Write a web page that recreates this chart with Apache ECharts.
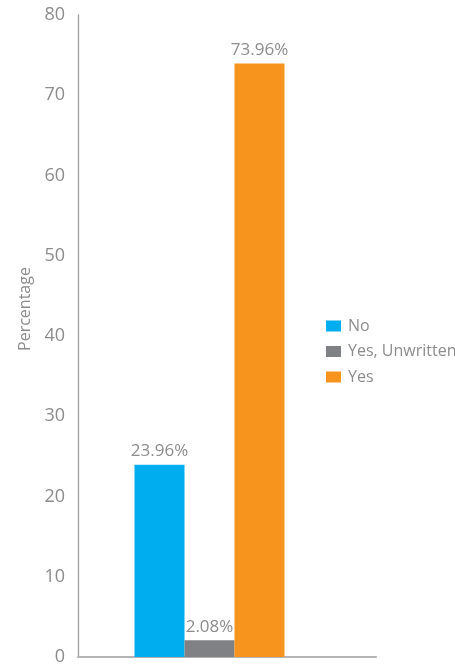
<!DOCTYPE html>
<html>
<head>
<meta charset="utf-8">
<style>
  html, body { margin: 0; padding: 0; background: #ffffff; }
  #chart { width: 455px; height: 666px; }
</style>
<script src="https://cdn.jsdelivr.net/npm/echarts@6/dist/echarts.min.js"></script>
</head>
<body>
<div id="chart"></div>
<script>
// Survey answers, share of respondents (%)
const categories = ['Response'];
const seriesNames = ['No', 'Yes, Unwritten', 'Yes'];
const noValues = [23.96];
const unwrittenValues = [2.08];
const yesValues = [73.96];
const yTicks = [0, 10, 20, 30, 40, 50, 60, 70, 80];

const colors = ['#00AEEF', '#808184', '#F7941E'];
const textGray = '#8C8C8E';
const font = '"Open Sans", "Noto Sans", sans-serif';

function barSeries(name, values, color) {
  return {
    name: name,
    type: 'bar',
    data: values,
    barWidth: 50,
    barGap: '0%',
    itemStyle: { color: color },
    label: {
      show: true,
      position: 'top',
      distance: 5,
      formatter: function (p) { return p.value.toFixed(2) + '%'; },
      color: textGray,
      fontFamily: font,
      fontSize: 17
    }
  };
}

const chart = echarts.init(document.getElementById('chart'), null, { renderer: 'canvas' });
chart.setOption({
  animation: false,
  textStyle: { fontFamily: font },
  grid: { left: 78, right: 79, top: 15, bottom: 8, containLabel: false },
  legend: {
    data: seriesNames,
    orient: 'vertical',
    left: 321,
    top: 313,
    itemWidth: 15,
    itemHeight: 11,
    itemGap: 9.5,
    icon: 'rect',
    textStyle: { color: textGray, fontSize: 16, fontFamily: font, padding: [0, 0, 0, 2] }
  },
  xAxis: {
    type: 'category',
    data: categories,
    axisLine: { show: true, lineStyle: { color: '#B4B4B4', width: 2 } },
    axisTick: { show: false },
    axisLabel: { show: false },
    splitLine: { show: false }
  },
  yAxis: {
    type: 'value',
    min: yTicks[0],
    max: yTicks[yTicks.length - 1],
    interval: yTicks[1] - yTicks[0],
    name: 'Percentage',
    nameLocation: 'middle',
    nameGap: 44,
    nameTextStyle: { color: textGray, fontSize: 16, fontFamily: font, padding: [0, 0, 0, 54] },
    axisLine: { show: true, lineStyle: { color: '#A0A0A0', width: 1.3 } },
    axisTick: { show: false },
    splitLine: { show: false },
    axisLabel: { color: textGray, fontSize: 18, fontFamily: font, margin: 13 }
  },
  series: [
    barSeries(seriesNames[0], noValues, colors[0]),
    barSeries(seriesNames[1], unwrittenValues, colors[1]),
    barSeries(seriesNames[2], yesValues, colors[2]),
    // empty slot after the bars keeps the group left of the band centre
    { name: 'spacer', type: 'bar', data: [], barWidth: 35, barGap: '0%', silent: true }
  ]
});
</script>
</body>
</html>
